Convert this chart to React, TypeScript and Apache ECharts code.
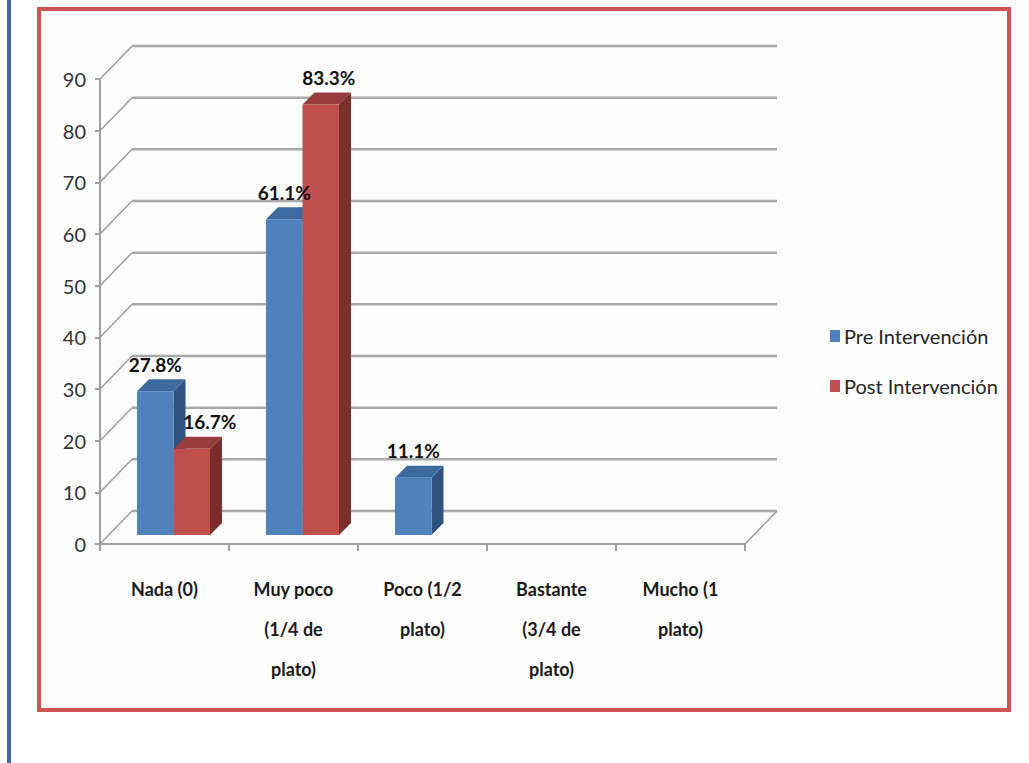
import React, { useEffect, useRef } from "react";
import * as echarts from "echarts";

// Portion of the plate eaten, before and after the intervention (% of children)
const CATEGORIES = [
  "Nada (0)",
  "Muy poco\n(1/4 de\nplato)",
  "Poco (1/2\nplato)",
  "Bastante\n(3/4 de\nplato)",
  "Mucho (1\nplato)",
];
const PRE_VALUES = [27.8, 61.1, 11.1, 0, 0];
const POST_VALUES = [16.7, 83.3, 0, 0, 0];
const SERIES_NAMES = ["Pre Intervención", "Post Intervención"];
const Y_TICKS = [0, 10, 20, 30, 40, 50, 60, 70, 80, 90];

const FONT = "Lato, 'Open Sans', sans-serif";

// 3D look: wall depth and bar depth offsets (px)
const DX = 32;
const DY = -33;
const BAR_SHIFT = 9;
const BAR_DEPTH = 12;

const PALETTE = [
  { front: "#4f81bd", top: "#3d6a9f", side: "#2f5282" },
  { front: "#c0504d", top: "#973d3b", side: "#7a2f2d" },
];

const VALUES = [PRE_VALUES, POST_VALUES];

// extra horizontal nudge for a label that would sit on the neighbouring bar
const labelNudge = (seriesIdx: number, i: number) =>
  seriesIdx === 1 && VALUES[1][i] < VALUES[0][i] ? 18 : seriesIdx === 1 ? 8 : 0;

const renderWalls = (_params: any, api: any) => {
  const v = api.value(1);
  const bw = api.size([1, 0])[0];
  const p0 = api.coord([0, v]);
  const left = p0[0] - bw / 2;
  const right = api.coord([CATEGORIES.length - 1, v])[0] + bw / 2;
  const y = p0[1];
  const children: any[] = [
    {
      type: "line",
      shape: { x1: left, y1: y, x2: left + DX, y2: y + DY },
      style: { stroke: "#9c9c9c", lineWidth: 1.5 },
    },
    {
      type: "line",
      shape: { x1: left + DX, y1: y + DY, x2: right + DX, y2: y + DY },
      style: { stroke: "#a8a8a8", lineWidth: 2.5 },
    },
  ];
  if (v === 0) {
    children.push({
      type: "line",
      shape: { x1: right, y1: y, x2: right + DX, y2: y + DY },
      style: { stroke: "#9c9c9c", lineWidth: 1.5 },
    });
  }
  return { type: "group", children };
};

// front-face geometry of one bar, from the axes' scales
const barBox = (seriesIdx: number, api: any) => {
  const i = api.value(0);
  const v = api.value(1);
  const bw = api.size([1, 0])[0];
  const barW = bw * 0.283;
  const top = api.coord([i, v]);
  const base = api.coord([i, 0]);
  const cx = top[0] + BAR_SHIFT;
  const x0 = seriesIdx === 0 ? cx - barW : cx;
  return { i, v, x0, x1: x0 + barW, yt: top[1] - BAR_SHIFT, yb: base[1] - BAR_SHIFT };
};

const makeBarRenderer = (seriesIdx: number) => (_params: any, api: any) => {
  const { v, x0, x1, yt, yb } = barBox(seriesIdx, api);
  if (!(v > 0)) return { type: "group", children: [] };
  const colors = PALETTE[seriesIdx];
  const d = BAR_DEPTH;
  return {
    type: "group",
    children: [
      {
        type: "polygon",
        shape: { points: [[x1, yt], [x1 + d, yt - d], [x1 + d, yb - d], [x1, yb]] },
        style: { fill: colors.side },
      },
      {
        type: "polygon",
        shape: { points: [[x0, yt], [x1, yt], [x1 + d, yt - d], [x0 + d, yt - d]] },
        style: { fill: colors.top },
      },
      {
        type: "rect",
        shape: { x: x0, y: yt, width: x1 - x0, height: yb - yt },
        style: { fill: colors.front },
      },
    ],
  };
};

const makeLabelRenderer = (seriesIdx: number) => (_params: any, api: any) => {
  const { i, v, x0, x1, yt } = barBox(seriesIdx, api);
  if (!(v > 0)) return { type: "group", children: [] };
  return {
    type: "text",
    style: {
      text: `${v.toFixed(1)}%`,
      x: (x0 + x1) / 2 + labelNudge(seriesIdx, i),
      y: yt - BAR_DEPTH - 15,
      align: "center",
      verticalAlign: "middle",
      fill: "#111",
      fontFamily: FONT,
      fontWeight: "bold",
      fontSize: 19,
    },
  };
};

export default function App() {
  const ref = useRef<HTMLDivElement>(null);

  useEffect(() => {
    if (!ref.current) return;
    const chart = echarts.init(ref.current, undefined, { renderer: "svg" });
    const barSeries = VALUES.map((vals, s) => ({
      type: "custom",
      name: SERIES_NAMES[s],
      z: 3 + s,
      itemStyle: { color: PALETTE[s].front },
      renderItem: makeBarRenderer(s),
      encode: { x: 0, y: 1 },
      data: vals.map((v, i) => [i, v]),
    }));
    const labelSeries = VALUES.map((vals, s) => ({
      type: "custom",
      name: `${SERIES_NAMES[s]} %`,
      z: 10,
      silent: true,
      renderItem: makeLabelRenderer(s),
      encode: { x: 0, y: 1 },
      data: vals.map((v, i) => [i, v]),
    }));
    chart.setOption({
      animation: false,
      backgroundColor: "#ffffff",
      graphic: [
        {
          type: "rect",
          z: -10,
          shape: { x: 7, y: 0, width: 4, height: 763 },
          style: { fill: "#3f6a9f" },
        },
        {
          type: "rect",
          z: -10,
          shape: { x: 39, y: 9, width: 970, height: 701 },
          style: { fill: "#fdfdfd", stroke: "#cd5553", lineWidth: 4 },
        },
      ],
      legend: {
        orient: "vertical",
        left: 825,
        top: 321,
        icon: "rect",
        itemWidth: 10,
        itemHeight: 12,
        itemGap: 30,
        data: SERIES_NAMES,
        textStyle: { fontFamily: FONT, fontSize: 20, color: "#262626", padding: [0, 0, 0, -1] },
      },
      grid: { left: 100, right: 284, top: 79, bottom: 219, containLabel: false },
      xAxis: {
        type: "category",
        data: CATEGORIES,
        axisLine: { show: true, lineStyle: { color: "#a0a0a0", width: 2 } },
        axisTick: { show: true, length: 7, lineStyle: { color: "#a0a0a0", width: 2 } },
        splitLine: { show: false },
        axisLabel: {
          interval: 0,
          margin: 25,
          fontFamily: FONT,
          fontWeight: "bold",
          fontSize: 18,
          lineHeight: 40,
          color: "#1a1a1a",
        },
      },
      yAxis: {
        type: "value",
        min: 0,
        max: 90,
        interval: 10,
        axisLine: { show: true, lineStyle: { color: "#a0a0a0", width: 2 } },
        axisTick: { show: true, length: 5, lineStyle: { color: "#a0a0a0", width: 2 } },
        splitLine: { show: false },
        axisLabel: { margin: 14, fontFamily: FONT, fontSize: 20, color: "#333333" },
      },
      series: [
        {
          type: "custom",
          name: "walls",
          z: 1,
          silent: true,
          renderItem: renderWalls,
          encode: { x: 0, y: 1 },
          data: Y_TICKS.map((v) => [0, v]),
        },
        ...barSeries,
        ...labelSeries,
      ],
    });
    return () => chart.dispose();
  }, []);

  return (
    <div
      ref={ref}
      style={{ position: "fixed", left: 0, top: 0, width: 1029, height: 763 }}
    />
  );
}
